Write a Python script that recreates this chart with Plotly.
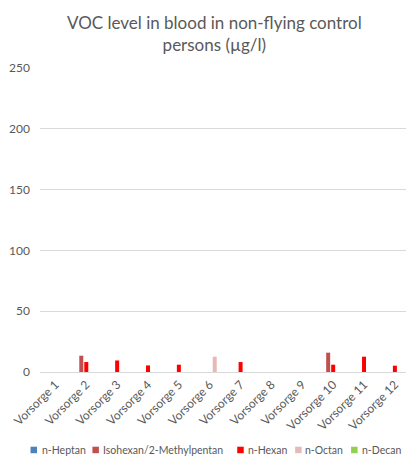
import plotly.graph_objects as go

categories = [f"Vorsorge {i}" for i in range(1, 13)]

n_heptan = [0, 0, 0, 0, 0, 0, 0, 0, 0, 0, 0, 0]
isohexan = [0, 13.4, 0, 0, 0, 0, 0, 0, 0, 15.9, 0, 0]
n_hexan = [0, 8.2, 9.5, 5.4, 6.0, 0, 8.2, 0, 0, 6.0, 12.6, 5.2]
n_octan = [0, 0, 0, 0, 0, 12.6, 0, 0, 0, 0, 0, 0]
n_decan = [0, 0, 0, 0, 0, 0, 0, 0, 0, 0, 0, 0]

series_names = ["n-Heptan", "Isohexan/2-Methylpentan", "n-Hexan", "n-Octan", "n-Decan"]
series_values = [n_heptan, isohexan, n_hexan, n_octan, n_decan]
series_colors = ["#4F81BD", "#C0504D", "#FF0000", "#E6B9B8", "#92D050"]

FONT = "Lato"
GREY = "#595959"
W, H = 406, 460
ML, MT, MB = 39.5, 68.3, 87.7
PW, PH = W - ML, H - MT - MB


def px_x(px):
    return (px - ML) / PW


def px_y(py):
    return (H - MB - py) / PH


fig = go.Figure()
for name, vals, color in zip(series_names, series_values, series_colors):
    fig.add_trace(go.Bar(x=categories, y=vals, name=name, showlegend=False,
                         marker=dict(color=color, line=dict(width=0))))

# Title
fig.add_annotation(text="VOC level in blood in non-flying control<br>persons (µg/l)",
                   xref="paper", yref="paper", x=px_x(214), y=px_y(33.5),
                   xanchor="center", yanchor="middle", showarrow=False,
                   font=dict(family=FONT, size=17, color=GREY))

# Legend row along the bottom
square_left = [30, 92, 237, 295, 351]
text_left = [40, 102, 247, 304, 361]
legend_y = 450
for name, color, sx, tx in zip(series_names, series_colors, square_left, text_left):
    fig.add_shape(type="rect", xref="paper", yref="paper",
                  x0=px_x(sx), x1=px_x(sx + 6.5), y0=px_y(legend_y + 3.5), y1=px_y(legend_y - 3),
                  fillcolor=color, line=dict(width=0))
    fig.add_annotation(text=name, xref="paper", yref="paper", x=px_x(tx - 1), y=px_y(legend_y),
                       xanchor="left", yanchor="middle", showarrow=False,
                       font=dict(family=FONT, size=10.5, color=GREY))

fig.update_layout(
    width=W, height=H,
    margin=dict(l=ML, r=0, t=MT, b=MB, pad=0),
    paper_bgcolor="white", plot_bgcolor="white",
    font=dict(family=FONT, color=GREY, size=12),
    barmode="group", bargap=0.19, bargroupgap=0.2,
    showlegend=False,
)

fig.update_yaxes(range=[0, 250], dtick=50, showgrid=True, gridcolor="#D9D9D9",
                 gridwidth=1, zeroline=False, showline=False, ticks="", automargin=False,
                 tickfont=dict(family=FONT, size=12, color=GREY), ticklabelstandoff=9)
fig.update_xaxes(range=[-0.5, 11.36], showgrid=False, showline=True, automargin=False,
                 linecolor="#D9D9D9", linewidth=1, ticks="", tickangle=-45,
                 tickfont=dict(family=FONT, size=12, color=GREY))

fig.write_html("out.html")
